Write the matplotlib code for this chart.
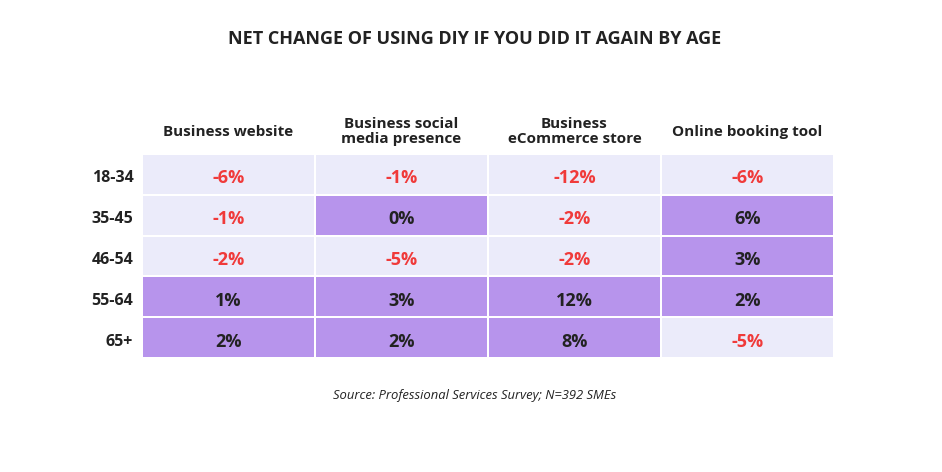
import matplotlib
matplotlib.use("Agg")
import matplotlib.pyplot as plt
import numpy as np
from matplotlib.colors import ListedColormap

title = "NET CHANGE OF USING DIY IF YOU DID IT AGAIN BY AGE"
columns = ["Business website", "Business social\nmedia presence",
           "Business\neCommerce store", "Online booking tool"]
age_groups = ["18-34", "35-45", "46-54", "55-64", "65+"]
website = [-6, -1, -2, 1, 2]
social = [-1, 0, -5, 3, 2]
ecommerce = [-12, -2, -2, 12, 8]
booking = [-6, 6, 3, 2, -5]
source = "Source: Professional Services Survey; N=392 SMEs"

values = np.array([website, social, ecommerce, booking]).T  # rows x cols

FONT = "Open Sans"
LAV = "#EBEBFA"
PURPLE = "#B794EC"
RED = "#F03A3A"
DARK = "#222222"

W, H = 942, 472
fig = plt.figure(figsize=(W / 100, H / 100), dpi=100)
fig.patch.set_facecolor("white")

left, right, top, bottom = 142, 834, 154, 358
ax = fig.add_axes([left / W, 1 - bottom / H, (right - left) / W, (bottom - top) / H])

cmap = ListedColormap([LAV, PURPLE])
cls = (values >= 0).astype(int)
nr, nc = values.shape
ax.pcolormesh(np.arange(nc + 1), np.arange(nr + 1), cls, cmap=cmap, vmin=0, vmax=1,
              edgecolors="white", linewidth=1.2)
ax.set_xlim(0, nc)
ax.set_ylim(nr, 0)
ax.set_axis_off()

for i in range(nr):
    for j in range(nc):
        v = values[i, j]
        ax.text(j + 0.5, i + 0.6, f"{v}%", ha="center", va="center",
                fontsize=13, fontweight="bold", family=FONT,
                color=RED if v < 0 else DARK)
    ax.text(-0.05, i + 0.6, age_groups[i], ha="right", va="center",
            fontsize=11.5, fontweight="bold", family=FONT, color=DARK)

for j, c in enumerate(columns):
    ax.text(j + 0.5, -0.55, c, ha="center", va="center", fontsize=11,
            fontweight="bold", family=FONT, color=DARK, linespacing=1.15)

fig.text(475 / W, 1 - 39 / H, title, ha="center", va="center", fontsize=13,
         fontweight="bold", family=FONT, color=DARK)
fig.text(475 / W, 1 - 395 / H, source, ha="center", va="center", fontsize=9.4,
         style="italic", family=FONT, color=DARK)

fig.savefig("out.png", dpi=100, facecolor="white")
